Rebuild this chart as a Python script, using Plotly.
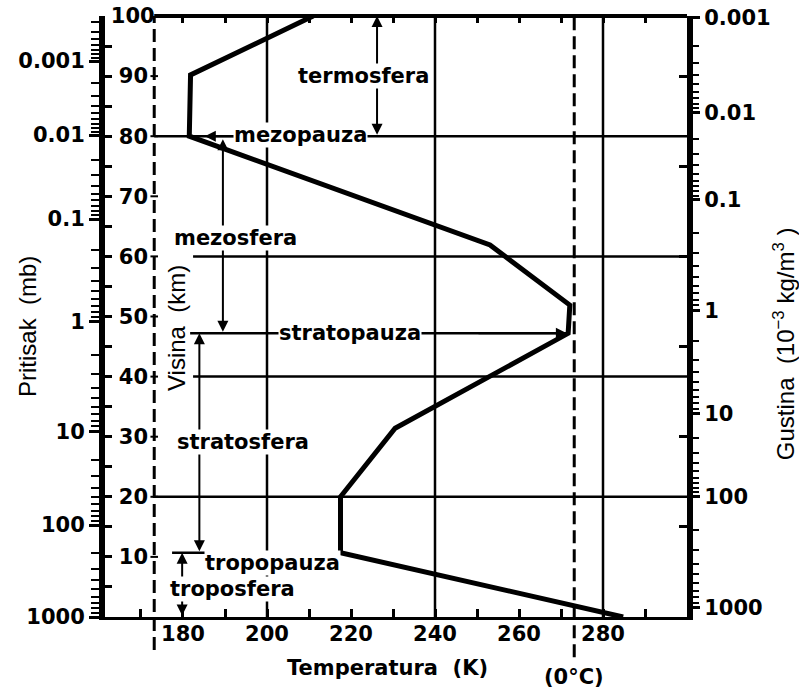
import numpy as np
import plotly.graph_objects as go

# ---------------------------------------------------------------------------
# data
# ---------------------------------------------------------------------------
# temperature profile of the atmosphere (K) against altitude (km)
profile_temp_k = [284.8, 217.5, 217.5, 230.5, 271.7, 272.1, 253.1, 181.5, 181.8, 211.0]
profile_alt_km = [0.0, 10.7, 20.0, 31.4, 47.2, 51.9, 61.9, 80.0, 90.2, 100.0]

# pressure scale (mb): decade labels and the altitude at which each is reached
pressure_labels = ["1000", "100", "10", "1", "0.1", "0.01", "0.001"]
pressure_mb = [1000, 100, 10, 1, 0.1, 0.01, 0.001]
pressure_alt_km = [0.0, 15.3, 30.9, 49.1, 66.2, 80.2, 92.5]

# density scale (10^-3 kg/m^3): decade labels and their altitudes
density_labels = ["1000", "100", "10", "1", "0.1", "0.01", "0.001"]
density_val = [1000, 100, 10, 1, 0.1, 0.01, 0.001]
density_alt_km = [1.5, 20.1, 33.9, 51.0, 69.4, 83.9, 99.8]

altitude_labels_km = [10, 20, 30, 40, 50, 60, 70, 80, 90, 100]
temperature_labels_k = [180, 200, 220, 240, 260, 280]

# layer names and boundary levels
layer_names = ["termosfera", "mezopauza", "mezosfera", "stratopauza",
               "stratosfera", "tropopauza", "troposfera"]
tropopause_km = 10.7
stratopause_km = 47.2
mesopause_km = 80.0
top_km = 100.0
zero_celsius_k = 273.15
minus100_celsius_k = 173.15

# ---------------------------------------------------------------------------
# layout helpers
# ---------------------------------------------------------------------------
T_RANGE = [161.43, 300.0]
H_RANGE = [0.0, 100.0]
BOLD = dict(family="DejaVu Sans", size=21, color="black", weight="bold")
TITLE_FONT = dict(family="Liberation Sans, Arial, sans-serif", size=24, color="black")


def log_scale_alt(v, values, alts):
    """Altitude of value v on a log scale pinned at the decade altitudes."""
    lv = np.log10(np.asarray(values, dtype=float))
    order = np.argsort(lv)
    lv = lv[order]
    al = np.asarray(alts, dtype=float)[order]
    x = np.log10(v)
    i = int(np.clip(np.searchsorted(lv, x) - 1, 0, len(lv) - 2))
    return al[i] + (x - lv[i]) * (al[i + 1] - al[i]) / (lv[i + 1] - lv[i])


def minor_log_ticks(values, alts):
    lo = int(np.floor(np.log10(min(values)))) - 1
    hi = int(np.ceil(np.log10(max(values)))) + 1
    out = []
    for k in range(lo, hi):
        for m in range(2, 10):
            a = log_scale_alt(m * 10.0 ** k, values, alts)
            if H_RANGE[0] <= a <= H_RANGE[1]:
                out.append(float(a))
    return out


pressure_minor = minor_log_ticks(pressure_mb, pressure_alt_km)
density_minor = minor_log_ticks(density_val, density_alt_km)

fig = go.Figure()

# temperature curve
fig.add_trace(go.Scatter(x=profile_temp_k, y=profile_alt_km, mode="lines",
                         line=dict(color="black", width=5), hoverinfo="skip"))
# empty traces so that every overlaid axis gets drawn
for xa, ya in [("x2", "y"), ("x", "y2"), ("x", "y3"), ("x", "y4")]:
    fig.add_trace(go.Scatter(x=[None], y=[None], xaxis=xa, yaxis=ya, hoverinfo="skip"))

shapes = []


def seg(x0, y0, x1, y1, width=2.5, dash=None, yref="y"):
    shapes.append(dict(type="line", xref="x", yref=yref, x0=x0, y0=y0, x1=x1, y1=y1,
                       layer="below",
                       line=dict(color="black", width=width, dash=dash)))


# vertical guide lines
for t in (200, 240, 280):
    seg(t, H_RANGE[0], t, H_RANGE[1])
# horizontal guide lines at 20, 40, 60, 80 km
seg(minus100_celsius_k, 80, T_RANGE[1], 80)
seg(182.4, 60, T_RANGE[1], 60)
seg(182.4, 40, T_RANGE[1], 40)
seg(minus100_celsius_k, 20, T_RANGE[1], 20)
# stratopause and tropopause markers
seg(181.7, stratopause_km, 271.4, stratopause_km)
seg(177.4, tropopause_km, 187.1, tropopause_km)
# -100 C and 0 C dashed lines, running below the temperature axis
seg(minus100_celsius_k, -0.055, minus100_celsius_k, 1, width=3, dash="13px,6px", yref="paper")
seg(zero_celsius_k, -0.067, zero_celsius_k, 1, width=3, dash="13px,6px", yref="paper")
# small crosses on the -100 C line at every 10 km
for h in altitude_labels_km[:-1]:
    seg(minus100_celsius_k - 0.9, h, minus100_celsius_k + 0.9, h, width=2)
# top frame
seg(minus100_celsius_k, 1, T_RANGE[1], 1, width=4, yref="paper")

annotations = []


def arrow(x0, y0, x1, y1, both=False):
    annotations.append(dict(
        x=x1, y=y1, ax=x0, ay=y0, xref="x", yref="y", axref="x", ayref="y",
        text="", showarrow=True, arrowhead=2, arrowsize=1.1, arrowwidth=2,
        arrowcolor="black", arrowside="end+start" if both else "end",
        startarrowhead=2, startarrowsize=1.1, standoff=0, startstandoff=0))


arrow(226.2, mesopause_km, 226.2, top_km, both=True)          # termosfera
arrow(189.5, stratopause_km, 189.5, 79.5, both=True)          # mezosfera
arrow(183.9, tropopause_km, 183.9, stratopause_km, both=True) # stratosfera
arrow(179.8, 0.0, 179.8, tropopause_km, both=True)            # troposfera
arrow(193.0, mesopause_km, 185.2, mesopause_km)               # mezopauza
arrow(250.0, stratopause_km, 271.4, stratopause_km)           # stratopauza

label_pos = {
    "termosfera": (222.9, 90.0),
    "mezopauza": (207.9, 80.2),
    "mezosfera": (192.4, 63.1),
    "stratopauza": (219.8, 47.3),
    "stratosfera": (194.3, 29.1),
    "tropopauza": (201.2, 9.0),
    "troposfera": (191.7, 4.7),
}
for name in layer_names:
    tx, ty = label_pos[name]
    annotations.append(dict(x=tx, y=ty, xref="x", yref="y", text=name, showarrow=False,
                            xanchor="center", yanchor="middle",
                            font=BOLD, bgcolor="white", borderpad=0))

# axis titles
annotations += [
    dict(x=-0.134, y=0.4825, xref="paper", yref="paper", text="Pritisak  (mb)",
         textangle=-90, showarrow=False, font=TITLE_FONT),
    dict(x=1.1667, y=0.454, xref="paper", yref="paper",
         text="Gustina  (10<sup>−3</sup> kg/m<sup>3</sup> )",
         textangle=-90, showarrow=False, font=TITLE_FONT),
    dict(x=178.6, y=48.1, xref="x", yref="y", text="Visina  (km)",
         textangle=-90, showarrow=False, font=TITLE_FONT),
    dict(x=0.486, y=-0.085, xref="paper", yref="paper", text="Temperatura  (K)",
         showarrow=False, font=BOLD),
    dict(x=zero_celsius_k, y=-0.0998, xref="x", yref="paper", text="(0°C)",
         showarrow=False, font=BOLD),
]
for a in annotations[-5:]:
    a.update(xanchor="center", yanchor="middle")

common = dict(showgrid=False, zeroline=False, tickcolor="black", linecolor="black",
              automargin=False)

# two-digit altitude labels get a narrow lead space so they sit centred
alt_text = [("\u2008" if h < 100 else "") + str(h) for h in altitude_labels_km]

fig.update_layout(
    width=799, height=689,
    margin=dict(l=105, r=112, t=16, b=72, autoexpand=False),
    paper_bgcolor="white", plot_bgcolor="white",
    showlegend=False, hovermode=False,
    shapes=shapes, annotations=annotations,
    xaxis=dict(range=T_RANGE, anchor="y", showline=True, linewidth=3,
               ticks="inside", ticklen=8, tickwidth=2.5, ticklabelstandoff=-4,
               tickvals=temperature_labels_k, ticktext=[str(t) for t in temperature_labels_k],
               tickfont=BOLD,
               minor=dict(tickvals=[170, 190, 210, 230, 250, 270, 290], ticks="inside",
                          ticklen=8, tickwidth=2.5, tickcolor="black"),
               **common),
    xaxis2=dict(range=T_RANGE, overlaying="x", side="top", anchor="y", showline=False,
                ticks="inside", ticklen=7, tickwidth=2.5,
                tickvals=list(range(180, 300, 10)), showticklabels=False, **common),
    yaxis=dict(range=H_RANGE, anchor="x", side="left", showline=True, linewidth=6,
               ticks="outside", ticklen=10, tickwidth=2.5,
               tickvals=pressure_alt_km, ticktext=pressure_labels, tickfont=BOLD,
               minor=dict(tickvals=pressure_minor, ticks="outside", ticklen=8,
                          tickwidth=2, tickcolor="black"),
               **common),
    yaxis2=dict(range=H_RANGE, overlaying="y", side="left", anchor="x", showline=False,
                ticks="inside", ticklen=7, tickwidth=2.5,
                tickvals=altitude_labels_km, ticktext=alt_text,
                ticklabelposition="inside", ticklabeloverflow="allow", tickfont=BOLD,
                minor=dict(tickvals=[5, 15, 25, 35, 45, 55, 65, 75, 85, 95], ticks="inside",
                           ticklen=7, tickwidth=2.5, tickcolor="black"),
                **common),
    yaxis3=dict(range=H_RANGE, overlaying="y", side="right", anchor="x", showline=True,
                linewidth=6, ticks="outside", ticklen=7, tickwidth=2.5,
                tickvals=density_alt_km, ticktext=density_labels, tickfont=BOLD,
                minor=dict(tickvals=density_minor, ticks="outside", ticklen=6,
                           tickwidth=2, tickcolor="black"),
                **common),
    yaxis4=dict(range=H_RANGE, overlaying="y", side="right", anchor="x", showline=False,
                ticks="inside", ticklen=8, tickwidth=2.5,
                tickvals=[15, 30, 45, 60, 75, 90], showticklabels=False, **common),
)

fig.write_html("out.html")
